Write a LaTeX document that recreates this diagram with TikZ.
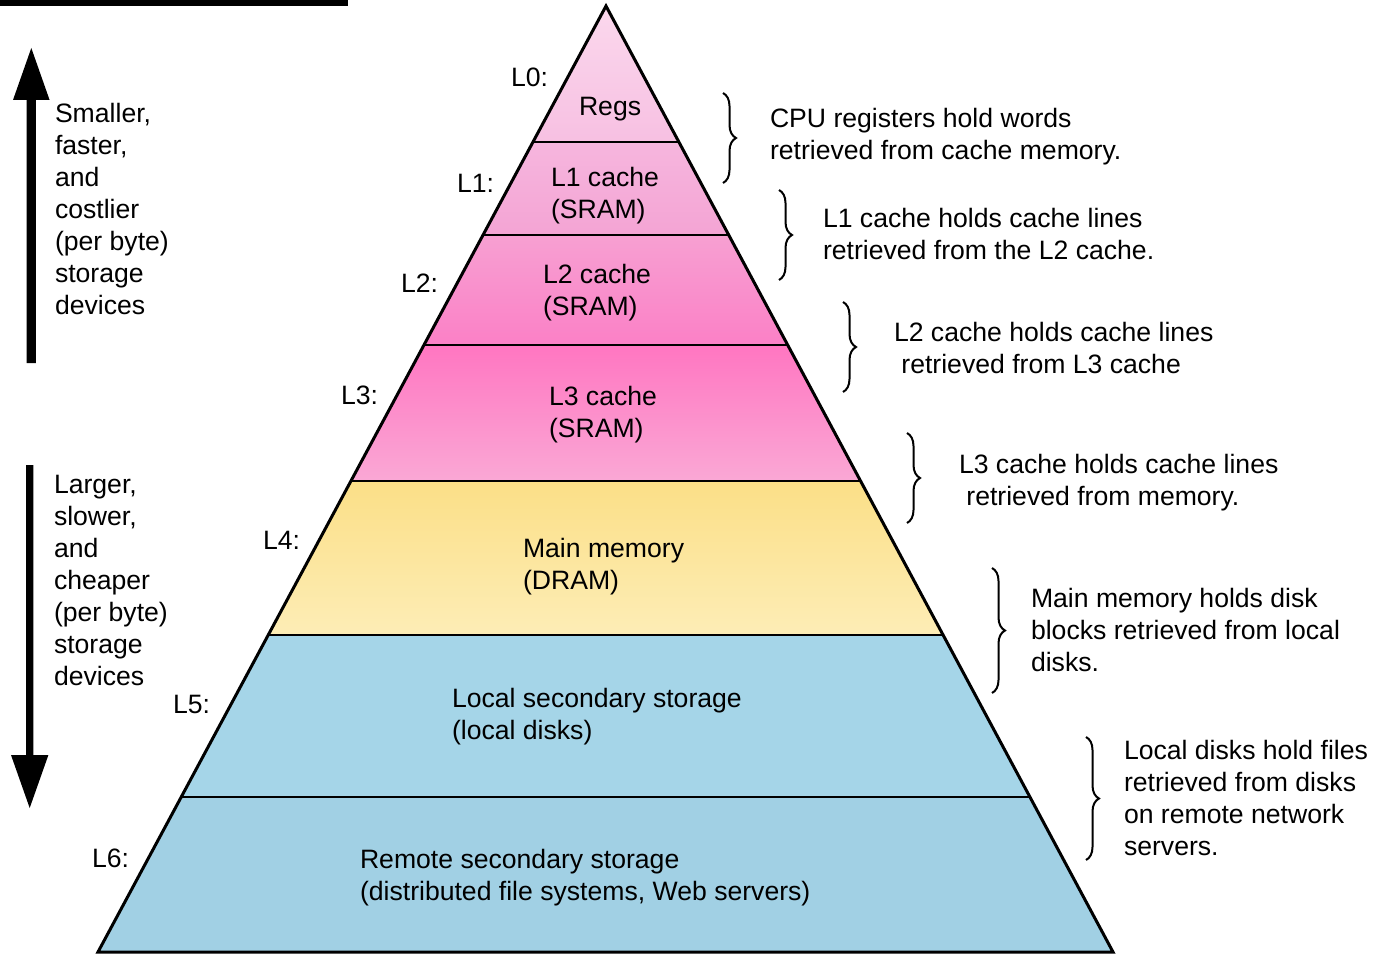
\documentclass[tikz,border=0pt]{standalone}
\usepackage{fontspec}
\setmainfont{Liberation Sans}
\usetikzlibrary{calc,decorations.pathreplacing}

% band colours of the hierarchy
\definecolor{regsTop}{RGB}{251,216,237}
\definecolor{regsBot}{RGB}{247,192,226}
\definecolor{lOneTop}{RGB}{246,182,222}
\definecolor{lOneBot}{RGB}{244,164,212}
\definecolor{lTwoTop}{RGB}{247,160,210}
\definecolor{lTwoBot}{RGB}{251,128,198}
\definecolor{lThreeTop}{RGB}{255,118,193}
\definecolor{lThreeBot}{RGB}{250,168,213}
\definecolor{memTop}{RGB}{251,223,135}
\definecolor{memBot}{RGB}{253,237,182}
\definecolor{diskBlue}{RGB}{165,213,232}
\definecolor{netBlue}{RGB}{161,208,228}

\begin{document}
\begin{tikzpicture}[x=1pt,y=-1pt,
  txt/.style={font=\fontsize{26.6}{32}\selectfont, inner sep=0pt, outer sep=0pt, align=left},
  block/.style={txt, anchor=north west},
  lvl/.style={txt, anchor=base east},
  bandline/.style={line width=2.5pt},
  edge/.style={line width=3pt, line join=miter},
  brc/.style={decorate, decoration={brace, amplitude=13pt}, line width=2pt},
  bigarrow/.style={fill=black}
]
\useasboundingbox (0,0) rectangle (1380,955);

% thin bar at the top left
\fill (0,0) rectangle (348,6);

% pyramid corners and band boundaries
\coordinate (apex) at (606,6);
\coordinate (bl) at (98,952);
\coordinate (br) at (1113,952);
\foreach \n/\y in {1/142,2/235,3/345,4/481,5/635,6/797} {
  \coordinate (l\n) at ($(apex)!{(\y-6)/946}!(bl)$);
  \coordinate (r\n) at ($(apex)!{(\y-6)/946}!(br)$);
}

% band fills
\shade[top color=regsTop, bottom color=regsBot] (apex) -- (r1) -- (l1) -- cycle;
\shade[top color=lOneTop, bottom color=lOneBot] (l1) -- (r1) -- (r2) -- (l2) -- cycle;
\shade[top color=lTwoTop, bottom color=lTwoBot] (l2) -- (r2) -- (r3) -- (l3) -- cycle;
\shade[top color=lThreeTop, bottom color=lThreeBot] (l3) -- (r3) -- (r4) -- (l4) -- cycle;
\shade[top color=memTop, bottom color=memBot] (l4) -- (r4) -- (r5) -- (l5) -- cycle;
\fill[diskBlue] (l5) -- (r5) -- (r6) -- (l6) -- cycle;
\fill[netBlue] (l6) -- (r6) -- (br) -- (bl) -- cycle;

% band separators and outline
\foreach \n in {1,...,6} \draw[bandline] (l\n) -- (r\n);
\draw[edge] (apex) -- (br) -- (bl) -- cycle;

% vertical arrows on the left
\fill[bigarrow] (26.7,363) -- (26.7,100) -- (13,100) -- (31.3,48) -- (49.6,100) -- (35.9,100) -- (35.9,363) -- cycle;
\fill[bigarrow] (26,465) -- (26,755) -- (11,755) -- (29.7,808) -- (48.4,755) -- (33.4,755) -- (33.4,465) -- cycle;

\node[block] (small) at (55,99.6) {\strut Smaller,\\faster,\\and\\costlier\\(per byte)\\storage\\devices};
\node[block] (large) at (54,470.6) {\strut Larger,\\slower,\\and\\cheaper\\(per byte)\\storage\\devices};

% level labels
\node[lvl] (L0) at (548,87) {L0:};
\node[lvl] (L1) at (494,192) {L1:};
\node[lvl] (L2) at (438,292) {L2:};
\node[lvl] (L3) at (378,404) {L3:};
\node[lvl] (L4) at (300,549) {L4:};
\node[lvl] (L5) at (210,713) {L5:};
\node[lvl] (L6) at (129,867) {L6:};

% band contents
\node[txt, anchor=base west] (regs) at (579,115) {Regs};
\node[block] (cacheA) at (551,163.6) {\strut L1 cache\\(SRAM)};
\node[block] (cacheB) at (543,260.6) {\strut L2 cache\\(SRAM)};
\node[block] (cacheC) at (549,382.6) {\strut L3 cache\\(SRAM)};
\node[block] (dram) at (523,534.6) {\strut Main memory\\(DRAM)};
\node[block] (local) at (452,684.6) {\strut Local secondary storage\\(local disks)};
\node[block] (remote) at (360,845.6) {\strut Remote secondary storage\\(distributed file systems, Web servers)};

% braces and descriptions
\draw[brc] (723,93) -- (723,183);
\draw[brc] (779,190) -- (779,280);
\draw[brc] (843,302) -- (843,392);
\draw[brc] (907,433) -- (907,523);
\draw[brc] (992,568) -- (992,693);
\draw[brc] (1086,737) -- (1086,860);

\node[block] (descA) at (770,104.6) {\strut CPU registers hold words\\retrieved from cache memory.};
\node[block] (descB) at (823,204.6) {\strut L1 cache holds cache lines\\retrieved from the L2 cache.};
\node[block] (descC) at (894,318.6) {\strut L2 cache holds cache lines\\\hspace*{7.4pt}retrieved from L3 cache};
\node[block] (descD) at (959,450.6) {\strut L3 cache holds cache lines\\\hspace*{7.4pt}retrieved from memory.};
\node[block] (descE) at (1031,584.6) {\strut Main memory holds disk\\blocks retrieved from local\\disks.};
\node[block] (descF) at (1124,736.6) {\strut Local disks hold files\\retrieved from disks\\on remote network\\servers.};
\end{tikzpicture}
\end{document}
